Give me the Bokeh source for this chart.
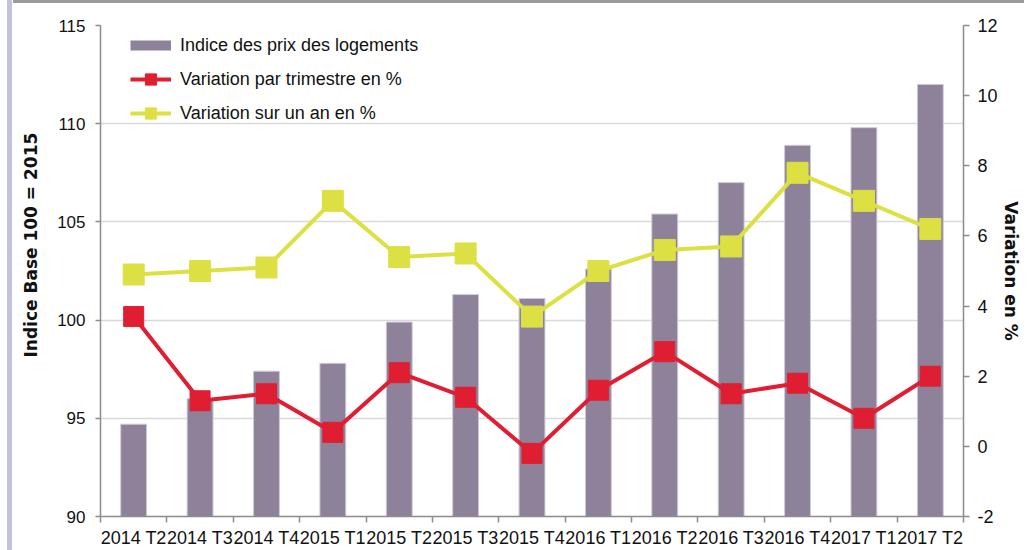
import math
from bokeh.plotting import figure
from bokeh.models import (Range1d, LinearAxis, FixedTicker, Legend, LegendItem,
                          Title, ColumnDataSource)
from bokeh.embed import file_html
from bokeh.resources import INLINE

# ---- data ----
categories = ["2014 T2", "2014 T3", "2014 T4", "2015 T1", "2015 T2", "2015 T3",
              "2015 T4", "2016 T1", "2016 T2", "2016 T3", "2016 T4", "2017 T1", "2017 T2"]
indice = [94.7, 96.0, 97.4, 97.8, 99.9, 101.3, 101.1, 102.6, 105.4, 107.0, 108.9, 109.8, 112.0]
var_trim = [3.7, 1.3, 1.5, 0.4, 2.1, 1.4, -0.2, 1.6, 2.7, 1.5, 1.8, 0.8, 2.0]
var_an = [4.9, 5.0, 5.1, 7.0, 5.4, 5.5, 3.7, 5.0, 5.6, 5.7, 7.8, 7.0, 6.2]
left_ticks = [90, 95, 100, 105, 110, 115]
right_ticks = [-2, 0, 2, 4, 6, 8, 10, 12]
series_names = ["Indice des prix des logements", "Variation par trimestre en %",
                "Variation sur un an en %"]
left_title = "Indice Base 100 = 2015"
right_title = "Variation en %"

BAR = "#8E829A"
RED = "#E01E32"
YEL = "#DCE043"
AXC = "#8C8C8C"
TXT = "#111111"
FONT = "Liberation Sans"

n = len(categories)
xs = list(range(n))
src = ColumnDataSource(dict(x=xs, cat=categories, indice=indice, trim=var_trim, an=var_an))

p = figure(width=1024, height=550, output_backend="svg", toolbar_location=None,
           x_range=Range1d(-0.5, n - 0.5), y_range=Range1d(left_ticks[0], left_ticks[-1]),
           min_border_left=100, min_border_right=61, min_border_top=25, min_border_bottom=33)
p.styles = {
    "background": ("linear-gradient(#9A9A9A, #9A9A9A) 13px 0 / 100% 3px no-repeat, "
                   "linear-gradient(#C2C2DD, #C2C2DD) 7px 0 / 5px 100% no-repeat, white"),
}
p.outline_line_color = None
p.background_fill_color = "white"
p.border_fill_alpha = 0
p.extra_y_ranges = {"pct": Range1d(right_ticks[0], right_ticks[-1])}

# grid
p.xgrid.visible = False
p.ygrid.ticker = FixedTicker(ticks=left_ticks)
p.ygrid.grid_line_color = "#D9D9D9"
p.ygrid.grid_line_width = 1.5

# x axis
xa = p.xaxis[0]
xa.ticker = FixedTicker(ticks=xs, minor_ticks=[i - 0.5 for i in range(n + 1)])
xa.major_label_overrides = {i: c for i, c in zip(xs, categories)}
xa.major_tick_out = 0
xa.major_tick_in = 0
xa.minor_tick_out = 6
xa.minor_tick_in = 0
xa.minor_tick_line_color = AXC
xa.minor_tick_line_width = 1.5
xa.axis_line_color = AXC
xa.axis_line_width = 1.5
xa.major_label_standoff = 5
xa.major_label_text_font = FONT
xa.major_label_text_font_size = "18px"
xa.major_label_text_color = TXT

# left axis
ya = p.yaxis[0]
ya.ticker = FixedTicker(ticks=left_ticks)
ya.major_label_overrides = {t: str(t) for t in left_ticks}
ya.major_tick_out = 5
ya.major_tick_in = 0
ya.minor_tick_out = 0
ya.minor_tick_in = 0
ya.major_tick_line_color = AXC
ya.major_tick_line_width = 1.5
ya.axis_line_color = AXC
ya.axis_line_width = 1.5
ya.major_label_standoff = 10
ya.major_label_text_font = FONT
ya.major_label_text_font_size = "17px"
ya.major_label_text_color = TXT

# right axis
ra = LinearAxis(y_range_name="pct", ticker=FixedTicker(ticks=right_ticks))
ra.major_label_overrides = {t: str(t) for t in right_ticks}
ra.major_tick_out = 6
ra.major_tick_in = 0
ra.minor_tick_out = 0
ra.minor_tick_in = 0
ra.major_tick_line_color = AXC
ra.major_tick_line_width = 1.5
ra.axis_line_color = AXC
ra.axis_line_width = 1.5
ra.major_label_standoff = 8
ra.major_label_text_font = FONT
ra.major_label_text_font_size = "18px"
ra.major_label_text_color = TXT
ra.axis_label = right_title
ra.axis_label_standoff = 0
ra.axis_label_text_font = "DejaVu Sans"
ra.axis_label_text_font_style = "bold"
ra.axis_label_text_font_size = "17px"
ra.axis_label_text_color = TXT
p.add_layout(ra, "right")

# bars
bars = p.vbar(x="x", top="indice", bottom=left_ticks[0], width=0.39, source=src,
              fill_color=BAR, line_color="#CFCBD6", line_width=1)

# lines
rl = p.line(x="x", y="trim", source=src, y_range_name="pct", line_color=RED, line_width=4)
rm = p.scatter(x="x", y="trim", source=src, y_range_name="pct", marker="square", size=20,
               fill_color=RED, line_color=RED)
yl = p.line(x="x", y="an", source=src, y_range_name="pct", line_color=YEL, line_width=4)
ym = p.scatter(x="x", y="an", source=src, y_range_name="pct", marker="square", size=21,
               fill_color=YEL, line_color=YEL)

# legend swatch for the bars: a thick line in bar colour with no visible points
swatch = p.line(x=[0], y=[float("nan")], line_color=BAR, line_width=10)

legend = Legend(items=[
    LegendItem(label=series_names[0], renderers=[swatch]),
    LegendItem(label=series_names[1], renderers=[rl, rm]),
    LegendItem(label=series_names[2], renderers=[yl, ym]),
], location=(30, 389))
legend.padding = 0
legend.margin = 0
legend.spacing = 6
legend.glyph_width = 41
legend.glyph_height = 28
legend.label_height = 28
legend.label_standoff = 9
legend.label_text_font = FONT
legend.label_text_font_size = "18px"
legend.label_text_color = TXT
legend.background_fill_alpha = 0
legend.border_line_color = None
p.add_layout(legend)

# left axis title (offset upward like the reference)
lt = Title(text=left_title, align="left", offset=159, standoff=28,
           text_font="DejaVu Sans", text_font_style="bold", text_font_size="17px",
           text_color=TXT)
p.add_layout(lt, "left")

open("out.html", "w").write(file_html(p, INLINE))
